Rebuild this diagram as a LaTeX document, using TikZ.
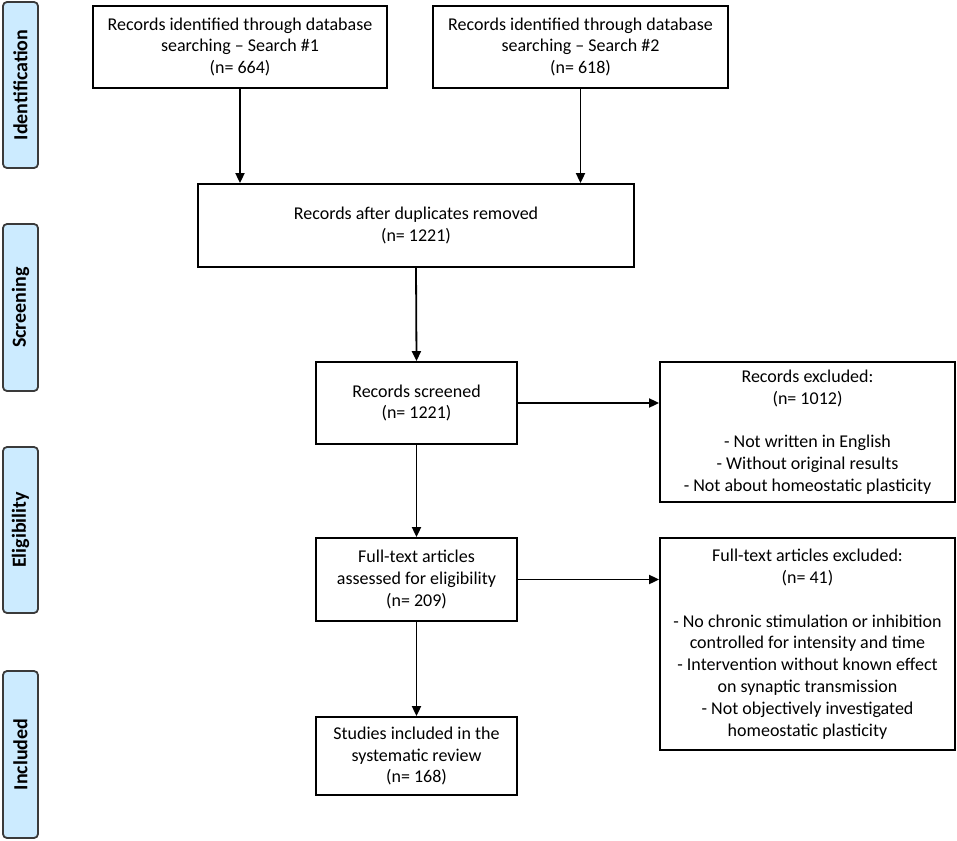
\documentclass[tikz,border=0pt]{standalone}
\usepackage{fontspec}
\setmainfont{Carlito}
\usetikzlibrary{arrows.meta}
\definecolor{phasefill}{HTML}{CCEBFF}
\definecolor{phaseline}{HTML}{3A3A3A}
\begin{document}
\begin{tikzpicture}[x=1pt,y=-1pt,
  box/.style={draw=black, line width=1.8pt, align=center, inner sep=0pt,
              font=\fontsize{18}{21.8}\selectfont},
  phase/.style={draw=phaseline, fill=phasefill, line width=1.8pt, rounded corners=4pt,
              inner sep=0pt, rotate=90, minimum height=35pt,
              font=\bfseries\fontsize{20}{23}\selectfont},
  arr/.style={line width=1.8pt, -{Triangle[length=10pt,width=9pt]}}]
\useasboundingbox (0,0) rectangle (957,840);

% phase labels
\node[phase, minimum width=166pt] (pid) at (20.5,85) {Identification};
\node[phase, minimum width=167pt] (psc) at (20.5,307.5) {Screening};
\node[phase, minimum width=166pt] (pel) at (20.5,530) {Eligibility};
\node[phase, minimum width=167pt] (pin) at (20.5,754.5) {Included};

% boxes
\node[box, minimum width=294pt, minimum height=82pt] (b1) at (240,47)
  {Records identified through database\\searching – Search \#1\\(n= 664)};
\node[box, minimum width=295pt, minimum height=82pt] (b2) at (580.5,47)
  {Records identified through database\\searching – Search \#2\\(n= 618)};
\node[box, minimum width=436pt, minimum height=83pt] (b3) at (416,225.5)
  {Records after duplicates removed\\(n= 1221)};
\node[box, minimum width=201pt, minimum height=82pt] (b4) at (416.5,403)
  {Records screened\\(n= 1221)};
\node[box, minimum width=295pt, minimum height=140pt] (b5) at (807.5,432)
  {Records excluded:\\(n= 1012)\\[21.8pt]- Not written in English\\- Without original results\\- Not about homeostatic plasticity};
\node[box, minimum width=201pt, minimum height=83pt] (b6) at (416.5,579.5)
  {Full-text articles\\assessed for eligibility\\(n= 209)};
\node[box, minimum width=295pt, minimum height=212pt] (b7) at (807.5,644)
  {Full-text articles excluded:\\(n= 41)\\[21.8pt]- No chronic stimulation or inhibition\\controlled for intensity and time\\- Intervention without known effect\\on synaptic transmission\\- Not objectively investigated\\homeostatic plasticity};
\node[box, minimum width=201pt, minimum height=78pt] (b8) at (416.5,756)
  {Studies included in the\\systematic review\\(n= 168)};

% connectors
\draw[arr] (b1.south) -- (b1.south |- b3.north);
\draw[arr] (b2.south) -- (b2.south |- b3.north);
\draw[arr] (b3.south) -- (b4.north);
\draw[arr] (b4.east) -- (b4.east -| b5.west);
\draw[arr] (b4.south) -- (b6.north);
\draw[arr] (b6.east) -- (b6.east -| b7.west);
\draw[arr] (b6.south) -- (b8.north);
\end{tikzpicture}
\end{document}
